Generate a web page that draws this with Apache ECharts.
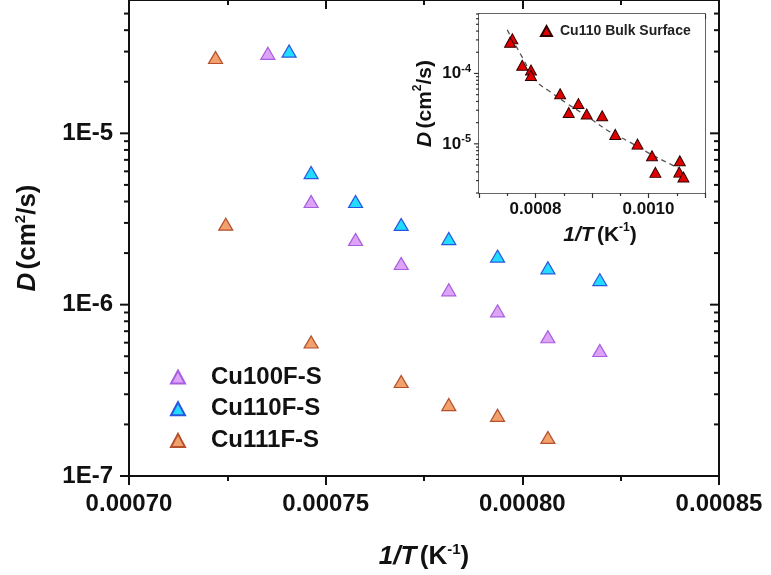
<!DOCTYPE html>
<html>
<head>
<meta charset="utf-8">
<script src="https://cdn.jsdelivr.net/npm/echarts@6/dist/echarts.min.js"></script>
<style>
html,body{margin:0;padding:0;background:#fff;}
#chart{width:771px;height:575px;}
</style>
</head>
<body>
<div id="chart"></div>
<script>
// ---- main chart data (1/T in K^-1, D in cm^2/s) ----
const cu100X = [0.0007353, 0.0007463, 0.0007576, 0.0007692, 0.0007813, 0.0007937, 0.0008065, 0.0008197];
const cu100D = [2.93e-5, 4.0e-6, 2.40e-6, 1.74e-6, 1.22e-6, 9.2e-7, 6.5e-7, 5.4e-7];
const cu110X = [0.0007407, 0.0007463, 0.0007576, 0.0007692, 0.0007813, 0.0007937, 0.0008065, 0.0008197];
const cu110D = [3.02e-5, 5.9e-6, 4.0e-6, 2.94e-6, 2.43e-6, 1.92e-6, 1.64e-6, 1.40e-6];
const cu111X = [0.0007220, 0.0007246, 0.0007463, 0.0007692, 0.0007813, 0.0007937, 0.0008065];
const cu111D = [2.77e-5, 2.95e-6, 6.05e-7, 3.56e-7, 2.61e-7, 2.26e-7, 1.68e-7];

// ---- inset data ----
const bulkX = [0.000759, 0.000755, 0.0007765, 0.000792, 0.000792, 0.0008436, 0.000876, 0.0008588, 0.0008906, 0.000918, 0.0009412, 0.0009806, 0.0010062, 0.0010554, 0.0010122, 0.0010545, 0.0010618];
const bulkD = [3.12e-4, 2.77e-4, 1.31e-4, 1.12e-4, 9.36e-5, 5.15e-5, 3.73e-5, 2.78e-5, 2.65e-5, 2.51e-5, 1.36e-5, 9.9e-6, 6.76e-6, 5.74e-6, 3.93e-6, 3.96e-6, 3.38e-6];
const fitX = [0.00075, 0.0007793, 0.0008, 0.0008265, 0.000856, 0.0008794, 0.0008971, 0.0009324, 0.0009677, 0.001003, 0.0010441, 0.001053];
const fitD = [4.16e-4, 1.55e-4, 8.02e-5, 5.46e-5, 3.73e-5, 2.83e-5, 2.28e-5, 1.47e-5, 1.05e-5, 7.2e-6, 4.9e-6, 4.54e-6];

// ---- axis ranges and tick values ----
const mainXMin = 0.0007, mainXMax = 0.00085;
const mainYMin = 1e-7, mainYMax = 6e-5;
const insetXMin = 0.0007, insetXMax = 0.0011;
const insetYMin = 2e-6, insetYMax = 7e-4;
const mainMajorY = [1e-7, 1e-6, 1e-5];
const mainMinorY = [2e-7,3e-7,4e-7,5e-7,6e-7,7e-7,8e-7,9e-7,2e-6,3e-6,4e-6,5e-6,6e-6,7e-6,8e-6,9e-6,2e-5,3e-5,4e-5,5e-5];
const insetMajorY = [1e-5, 1e-4];
const insetMinorY = [2e-6,3e-6,4e-6,5e-6,6e-6,7e-6,8e-6,9e-6,2e-5,3e-5,4e-5,5e-5,6e-5,7e-5,8e-5,9e-5,2e-4,3e-4,4e-4,5e-4,6e-4,7e-4];
const insetXLabels = ['0.0008', '0.0010'];

const FF = '"Liberation Sans", Arial, sans-serif';
const zip = (xs, ys) => xs.map((x, i) => [x, ys[i]]);

const mainLine = {show: true, lineStyle: {color: '#111', width: 2}};
const insetLine = {show: true, lineStyle: {color: '#333', width: 1.5}};

function logAxis(extra) {
  return Object.assign({type: 'log', logBase: 10, splitLine: {show: false}, axisTick: {show: false}, axisLabel: {show: false}}, extra);
}

// y tick marks for log axes (major + minor), drawn through the axis scale
function tickSeries(xi, yi, xMin, xMax, majors, minors, opt) {
  const data = majors.map(v => [xMin, v, 1]).concat(minors.map(v => [xMin, v, 0]));
  return {
    type: 'custom', xAxisIndex: xi, yAxisIndex: yi, silent: true, clip: false, z: opt.z || 8,
    encode: {x: 0, y: 1},
    data: data,
    renderItem: function (params, api) {
      const v = api.value(1);
      const major = api.value(2) === 1;
      const pL = api.coord([xMin, v]);
      const pR = api.coord([xMax, v]);
      const style = {stroke: opt.color, lineWidth: opt.width};
      const lenL = major ? opt.majorL : opt.minorL;
      const children = [{type: 'line', shape: {x1: pL[0] - lenL, y1: pL[1], x2: pL[0], y2: pL[1]}, style: style}];
      if (opt.right) {
        const lenR = major ? opt.majorR : opt.minorR;
        children.push({type: 'line', shape: {x1: pR[0] - lenR, y1: pR[1], x2: pR[0], y2: pR[1]}, style: style});
      }
      return {type: 'group', children: children};
    }
  };
}

const option = {
  backgroundColor: '#fff',
  animation: false,
  grid: [
    {left: 129, right: 52, top: 0, bottom: 99, containLabel: false, outerBoundsMode: 'none'},
    {left: 479, right: 66, top: 14, bottom: 382, containLabel: false, outerBoundsMode: 'none',
     show: true, backgroundColor: '#fff', borderWidth: 0, z: 5}
  ],
  legend: [
    {
      data: ['Cu100F-S', 'Cu110F-S', 'Cu111F-S'],
      orient: 'vertical', left: 170, top: 365, padding: 0,
      itemWidth: 14, itemHeight: 13, itemGap: 7.7,
      textStyle: {fontFamily: FF, fontWeight: 'bold', fontSize: 24, color: '#111', padding: [0, 0, 0, 21]}
    },
    {
      data: ['Cu110 Bulk Surface'],
      left: 540, top: 24, padding: 0, z: 10,
      itemWidth: 11, itemHeight: 10,
      textStyle: {fontFamily: FF, fontWeight: 'bold', fontSize: 14, color: '#222', padding: [0, 0, 0, 3]}
    }
  ],
  xAxis: [
    { // main bottom
      gridIndex: 0, type: 'value', position: 'bottom', min: mainXMin, max: mainXMax, interval: 0.00005,
      axisLine: mainLine, splitLine: {show: false},
      axisTick: {show: true, inside: false, length: 9, lineStyle: {color: '#111', width: 2}},
      minorTick: {show: true, splitNumber: 2, length: 5, lineStyle: {color: '#111', width: 2}},
      axisLabel: {show: true, margin: 16, fontFamily: FF, fontWeight: 'bold', fontSize: 24, color: '#111',
        formatter: v => v.toFixed(5)},
      name: '{i|1/T} {n|(K}{s|-1}{n|)}', nameLocation: 'middle', nameGap: 66,
      nameTextStyle: {rich: {
        i: {fontFamily: FF, fontWeight: 'bold', fontStyle: 'italic', fontSize: 26, color: '#111', lineHeight: 30},
        n: {fontFamily: FF, fontWeight: 'bold', fontSize: 26, color: '#111', lineHeight: 30},
        s: {fontFamily: FF, fontWeight: 'bold', fontSize: 15, color: '#111', verticalAlign: 'top', lineHeight: 20}
      }}
    },
    { // main top mirror
      gridIndex: 0, type: 'value', position: 'top', min: mainXMin, max: mainXMax, interval: 0.00005,
      axisLine: mainLine, splitLine: {show: false}, axisLabel: {show: false},
      axisTick: {show: true, inside: true, length: 9, lineStyle: {color: '#111', width: 2}},
      minorTick: {show: true, splitNumber: 2, length: 5, lineStyle: {color: '#111', width: 2}}
    },
    { // inset bottom
      gridIndex: 1, type: 'value', position: 'bottom', min: insetXMin, max: insetXMax, interval: 0.0001,
      axisLine: insetLine, splitLine: {show: false},
      axisTick: {show: true, inside: false, length: 5, lineStyle: {color: '#333', width: 1.2}},
      minorTick: {show: true, splitNumber: 2, length: 3, lineStyle: {color: '#333', width: 1.2}},
      axisLabel: {show: true, margin: 8, fontFamily: FF, fontWeight: 'bold', fontSize: 17, color: '#111',
        formatter: v => { const s = v.toFixed(4); return insetXLabels.indexOf(s) >= 0 ? s : ''; }},
      name: '{i|1/T} {n|(K}{s|-1}{n|)}', nameLocation: 'middle', nameGap: 29,
      nameTextStyle: {padding: [0, 0, 0, 16], rich: {
        i: {fontFamily: FF, fontWeight: 'bold', fontStyle: 'italic', fontSize: 21, color: '#111', lineHeight: 26},
        n: {fontFamily: FF, fontWeight: 'bold', fontSize: 21, color: '#111', lineHeight: 26},
        s: {fontFamily: FF, fontWeight: 'bold', fontSize: 12, color: '#111', verticalAlign: 'top', lineHeight: 16}
      }}
    },
    { // inset top
      gridIndex: 1, type: 'value', position: 'top', min: insetXMin, max: insetXMax, interval: 0.0001,
      axisLine: insetLine, splitLine: {show: false}, axisLabel: {show: false},
      axisTick: {show: true, inside: true, length: 5, lineStyle: {color: '#333', width: 1.2}},
      minorTick: {show: true, splitNumber: 2, length: 3, lineStyle: {color: '#333', width: 1.2}}
    }
  ],
  yAxis: [
    logAxis({ // 0 main left + labels
      gridIndex: 0, position: 'left', min: mainYMin, max: mainYMax,
      axisLine: mainLine,
      axisLabel: {show: true, margin: 16, customValues: mainMajorY, fontFamily: FF, fontWeight: 'bold', fontSize: 24, color: '#111',
        formatter: v => '1E' + Math.round(Math.log10(v))},
      name: '{i|D} {n|(cm}{s|2}{n|/s)}', nameLocation: 'middle', nameGap: 86, nameRotate: 90,
      nameTextStyle: {rich: {
        i: {fontFamily: FF, fontWeight: 'bold', fontStyle: 'italic', fontSize: 26, color: '#111', lineHeight: 30},
        n: {fontFamily: FF, fontWeight: 'bold', fontSize: 26, color: '#111', lineHeight: 30},
        s: {fontFamily: FF, fontWeight: 'bold', fontSize: 15, color: '#111', verticalAlign: 'top', lineHeight: 20}
      }}
    }),
    logAxis({ // 1 main right
      gridIndex: 0, position: 'right', min: mainYMin, max: mainYMax, axisLine: mainLine
    }),
    logAxis({ // 2 inset left + labels
      gridIndex: 1, position: 'left', min: insetYMin, max: insetYMax, axisLine: insetLine,
      axisLabel: {show: true, margin: 8, customValues: insetMajorY,
        formatter: v => '{b|10}{s|' + Math.round(Math.log10(v)) + '}',
        rich: {
          b: {fontFamily: FF, fontWeight: 'bold', fontSize: 17, color: '#111', lineHeight: 20},
          s: {fontFamily: FF, fontWeight: 'bold', fontSize: 11, color: '#111', verticalAlign: 'top', lineHeight: 13}
        }},
      name: '{i|D} {n|(cm}{s|2}{n|/s)}', nameLocation: 'middle', nameGap: 41, nameRotate: 90,
      nameTextStyle: {rich: {
        i: {fontFamily: FF, fontWeight: 'bold', fontStyle: 'italic', fontSize: 21, color: '#111', lineHeight: 26},
        n: {fontFamily: FF, fontWeight: 'bold', fontSize: 21, color: '#111', lineHeight: 26},
        s: {fontFamily: FF, fontWeight: 'bold', fontSize: 12, color: '#111', verticalAlign: 'top', lineHeight: 16}
      }}
    }),
    logAxis({ // 3 inset right border
      gridIndex: 1, position: 'right', min: insetYMin, max: insetYMax, axisLine: insetLine
    })
  ],
  series: [
    tickSeries(0, 0, mainXMin, mainXMax, mainMajorY, mainMinorY,
      {color: '#111', width: 2, majorL: 9, minorL: 5, right: true, majorR: 9, minorR: 5, z: 3}),
    tickSeries(2, 2, insetXMin, insetXMax, insetMajorY, insetMinorY,
      {color: '#333', width: 1.2, majorL: 5, minorL: 3, right: false, z: 8}),
    {
      name: 'Cu100F-S', type: 'scatter', xAxisIndex: 0, yAxisIndex: 0,
      symbol: 'triangle', symbolSize: [14, 12],
      itemStyle: {color: '#dca3f6', borderColor: '#a85ee0', borderWidth: 1.2, opacity: 1},
      data: zip(cu100X, cu100D)
    },
    {
      name: 'Cu110F-S', type: 'scatter', xAxisIndex: 0, yAxisIndex: 0,
      symbol: 'triangle', symbolSize: [14, 12],
      itemStyle: {color: '#22dcff', borderColor: '#2a55e0', borderWidth: 1.2, opacity: 1},
      data: zip(cu110X, cu110D)
    },
    {
      name: 'Cu111F-S', type: 'scatter', xAxisIndex: 0, yAxisIndex: 0,
      symbol: 'triangle', symbolSize: [14, 12],
      itemStyle: {color: '#f2a06c', borderColor: '#b4502c', borderWidth: 1.2, opacity: 1},
      data: zip(cu111X, cu111D)
    },
    {
      name: 'fit', type: 'line', xAxisIndex: 2, yAxisIndex: 2, smooth: true,
      symbol: 'none', z: 6,
      lineStyle: {color: '#555', width: 1.3, type: [5, 4]},
      data: zip(fitX, fitD)
    },
    {
      name: 'Cu110 Bulk Surface', type: 'scatter', xAxisIndex: 2, yAxisIndex: 2, z: 7,
      symbol: 'triangle', symbolSize: [11, 10],
      itemStyle: {color: '#e00000', borderColor: '#300', borderWidth: 1, opacity: 1},
      data: zip(bulkX, bulkD)
    }
  ]
};

const chart = echarts.init(document.getElementById('chart'), null, {renderer: 'canvas'});
chart.setOption(option);
</script>
</body>
</html>
